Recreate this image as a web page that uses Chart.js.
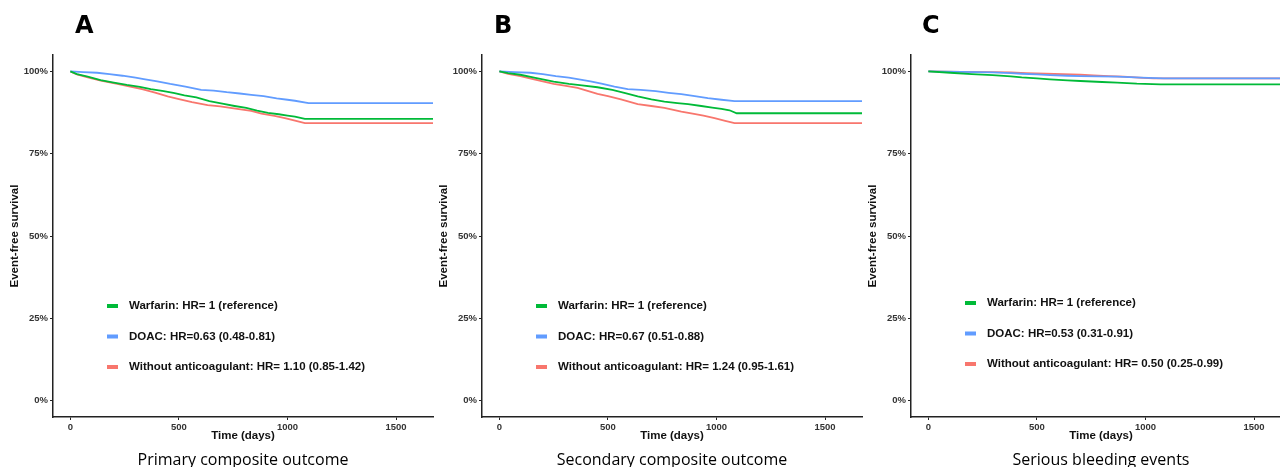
<!DOCTYPE html>
<html lang="en">
<head>
<meta charset="UTF-8">
<title>Event-free survival by anticoagulant</title>
<style>
    body {
        margin: 0;
        width: 1280px;
        height: 467px;
        overflow: hidden;
        background: #fff;
        position: relative;
        font-family: 'Liberation Sans', Arial, sans-serif;
    }
    .panel {
        position: absolute;
        top: 0;
        width: 436px;
        height: 467px;
    }
    .panel canvas {
        position: absolute;
        left: 0;
        top: 0;
    }
    .letter {
        position: absolute;
        top: 13px;
        font-family: 'DejaVu Sans', sans-serif;
        font-weight: bold;
        font-size: 24px;
        line-height: 24px;
        color: #000;
    }
</style>
</head>
<body>

<div class="panel" style="left:0px">
    <canvas id="chartA" width="436" height="467"></canvas>
    <div class="letter" style="left:75px">A</div>
</div>
<div class="panel" style="left:429px">
    <canvas id="chartB" width="436" height="467"></canvas>
    <div class="letter" style="left:65px">B</div>
</div>
<div class="panel" style="left:858px">
    <canvas id="chartC" width="436" height="467"></canvas>
    <div class="letter" style="left:64px">C</div>
</div>

<script src="https://cdn.jsdelivr.net/npm/chart.js@4.4.0/dist/chart.umd.min.js"></script>
<script>
// axis ticks
var xTicks = [0, 500, 1000, 1500];
var yTicks = [0, 0.25, 0.5, 0.75, 1];

// series order: Warfarin, DOAC, Without anticoagulant
var seriesColors = ['#00BA38', '#619CFF', '#F8766D'];

// A - primary composite outcome
var aTitle = 'Primary composite outcome';
var aLabels = ['Warfarin: HR= 1 (reference)', 'DOAC: HR=0.63 (0.48-0.81)', 'Without anticoagulant: HR= 1.10 (0.85-1.42)'];
var aWarfarinDays = [0, 30, 80, 139, 200, 260, 320, 370, 430, 480, 525, 580, 640, 700, 756, 810, 860, 910, 960, 1000, 1034, 1080, 1670];
var aWarfarinSurv = [1.000, 0.992, 0.984, 0.974, 0.966, 0.959, 0.953, 0.946, 0.940, 0.934, 0.927, 0.921, 0.910, 0.902, 0.895, 0.889, 0.881, 0.874, 0.870, 0.866, 0.863, 0.856, 0.856];
var aDoacDays = [0, 60, 123, 180, 240, 300, 338, 400, 460, 530, 602, 660, 720, 780, 833, 890, 950, 1000, 1034, 1097, 1670];
var aDoacSurv = [1.000, 0.998, 0.996, 0.992, 0.987, 0.981, 0.977, 0.970, 0.962, 0.954, 0.944, 0.942, 0.937, 0.933, 0.929, 0.925, 0.918, 0.914, 0.911, 0.904, 0.904];
var aNoneDays = [0, 30, 80, 140, 216, 270, 330, 390, 448, 500, 560, 632, 690, 760, 833, 880, 940, 988, 1030, 1080, 1670];
var aNoneSurv = [1.000, 0.991, 0.982, 0.972, 0.962, 0.955, 0.946, 0.936, 0.924, 0.916, 0.907, 0.898, 0.894, 0.887, 0.880, 0.872, 0.865, 0.858, 0.851, 0.843, 0.843];

// B - secondary composite outcome
var bTitle = 'Secondary composite outcome';
var bLabels = ['Warfarin: HR= 1 (reference)', 'DOAC: HR=0.67 (0.51-0.88)', 'Without anticoagulant: HR= 1.24 (0.95-1.61)'];
var bWarfarinDays = [0, 40, 97, 160, 250, 320, 380, 452, 520, 580, 637, 700, 760, 820, 869, 930, 980, 1023, 1060, 1093, 1670];
var bWarfarinSurv = [1.000, 0.995, 0.990, 0.981, 0.969, 0.962, 0.958, 0.952, 0.944, 0.934, 0.924, 0.915, 0.908, 0.904, 0.901, 0.895, 0.890, 0.886, 0.882, 0.873, 0.873];
var bDoacDays = [0, 70, 143, 200, 260, 320, 360, 420, 470, 530, 591, 650, 720, 780, 838, 900, 960, 1023, 1083, 1670];
var bDoacSurv = [1.000, 0.998, 0.996, 0.992, 0.986, 0.981, 0.977, 0.970, 0.963, 0.954, 0.946, 0.944, 0.940, 0.935, 0.931, 0.925, 0.919, 0.914, 0.910, 0.910];
var bNoneDays = [0, 40, 97, 160, 250, 300, 360, 410, 452, 500, 560, 637, 700, 760, 838, 890, 940, 991, 1040, 1083, 1670];
var bNoneSurv = [1.000, 0.993, 0.986, 0.976, 0.962, 0.957, 0.950, 0.940, 0.932, 0.925, 0.915, 0.901, 0.895, 0.889, 0.878, 0.872, 0.866, 0.858, 0.850, 0.843, 0.843];

// C - serious bleeding events
var cTitle = 'Serious bleeding events';
var cLabels = ['Warfarin: HR= 1 (reference)', 'DOAC: HR=0.53 (0.31-0.91)', 'Without anticoagulant: HR= 0.50 (0.25-0.99)'];
var cWarfarinDays = [0, 100, 200, 296, 380, 430, 500, 560, 640, 700, 800, 869, 960, 1069, 1670];
var cWarfarinSurv = [1.000, 0.996, 0.992, 0.989, 0.985, 0.982, 0.979, 0.976, 0.973, 0.971, 0.968, 0.966, 0.963, 0.961, 0.961];
var cDoacDays = [0, 150, 296, 380, 430, 500, 560, 640, 700, 780, 869, 980, 1084, 1670];
var cDoacSurv = [1.000, 0.999, 0.9975, 0.995, 0.993, 0.991, 0.989, 0.987, 0.986, 0.985, 0.984, 0.981, 0.979, 0.979];
var cNoneDays = [0, 150, 296, 380, 450, 540, 620, 700, 760, 830, 898, 970, 1037, 1084, 1670];
var cNoneSurv = [1.000, 0.999, 0.998, 0.997, 0.995, 0.993, 0.992, 0.990, 0.988, 0.986, 0.984, 0.981, 0.979, 0.979, 0.979];

var fontFamily = "'Liberation Sans', Arial, sans-serif";
Chart.defaults.font.family = fontFamily;

// legend inside the plot area + panel caption centred under the plot
var panelText = {
    id: 'panelText',
    afterDraw: function(chart, args, opts) {
        var ctx = chart.ctx;
        var area = chart.chartArea;
        ctx.save();
        ctx.font = 'bold 11.5px ' + fontFamily;
        ctx.textBaseline = 'middle';
        ctx.textAlign = 'left';
        chart.data.datasets.forEach(function(ds, i) {
            var y = area.top + opts.top + i * opts.gap;
            ctx.fillStyle = ds.borderColor;
            ctx.fillRect(area.left + 54, y - 2, 11, 4);
            ctx.fillStyle = '#111';
            ctx.fillText(ds.label, area.left + 76, y);
        });
        ctx.font = "16px 'Open Sans', sans-serif";
        ctx.textAlign = 'center';
        ctx.fillStyle = '#000';
        ctx.fillText(opts.caption, (area.left + area.right) / 2, chart.height - 7);
        ctx.restore();
    }
};

function toPoints(days, surv) {
    return days.map(function(d, i) { return {x: d, y: surv[i]}; });
}

function makeChart(id, title, labels, days, surv, legendTop) {
    var datasets = labels.map(function(label, i) {
        return {
            label: label,
            data: toPoints(days[i], surv[i]),
            borderColor: seriesColors[i],
            borderWidth: 1.8,
            pointRadius: 0,
            tension: 0,
            fill: false
        };
    });
    return new Chart(document.getElementById(id), {
        type: 'line',
        data: { datasets: datasets },
        plugins: [panelText],
        options: {
            responsive: false,
            animation: false,
            layout: { padding: { top: 55, right: 3, left: 0, bottom: 15 } },
            plugins: {
                legend: { display: false },
                tooltip: { enabled: false },
                panelText: { top: legendTop, gap: 30.5, caption: title }
            },
            scales: {
                x: {
                    type: 'linear',
                    min: -80,
                    max: 1670,
                    afterFit: function(s) { s.height = 35; },
                    afterBuildTicks: function(s) { s.ticks = xTicks.map(function(v) { return {value: v}; }); },
                    border: { display: true, color: '#222', width: 1.5 },
                    grid: { drawOnChartArea: false, drawTicks: true, tickLength: 3, color: '#222' },
                    ticks: {
                        padding: 2, color: '#333', font: { size: 9.5, weight: 'bold' }, maxRotation: 0,
                        callback: function(v) { return String(v); }
                    },
                    title: { display: true, text: 'Time (days)', color: '#111', font: { size: 11.5, weight: 'bold' }, padding: { top: 0, bottom: 9 } }
                },
                y: {
                    type: 'linear',
                    min: -0.05,
                    max: 1.05,
                    afterFit: function(s) { s.width = 53; },
                    afterBuildTicks: function(s) { s.ticks = yTicks.map(function(v) { return {value: v}; }); },
                    border: { display: true, color: '#222', width: 1.5 },
                    grid: { drawOnChartArea: false, drawTicks: true, tickLength: 3, color: '#222' },
                    ticks: {
                        padding: 2, color: '#333', font: { size: 9.5, weight: 'bold' },
                        callback: function(v) { return Math.round(v * 100) + '%'; }
                    },
                    title: { display: true, text: 'Event-free survival', color: '#111', font: { size: 11.5, weight: 'bold' }, padding: { top: 8, bottom: 0 } }
                }
            }
        }
    });
}

makeChart('chartA', aTitle, aLabels,
    [aWarfarinDays, aDoacDays, aNoneDays], [aWarfarinSurv, aDoacSurv, aNoneSurv], 251);
makeChart('chartB', bTitle, bLabels,
    [bWarfarinDays, bDoacDays, bNoneDays], [bWarfarinSurv, bDoacSurv, bNoneSurv], 251);
makeChart('chartC', cTitle, cLabels,
    [cWarfarinDays, cDoacDays, cNoneDays], [cWarfarinSurv, cDoacSurv, cNoneSurv], 248);
</script>
</body>
</html>
